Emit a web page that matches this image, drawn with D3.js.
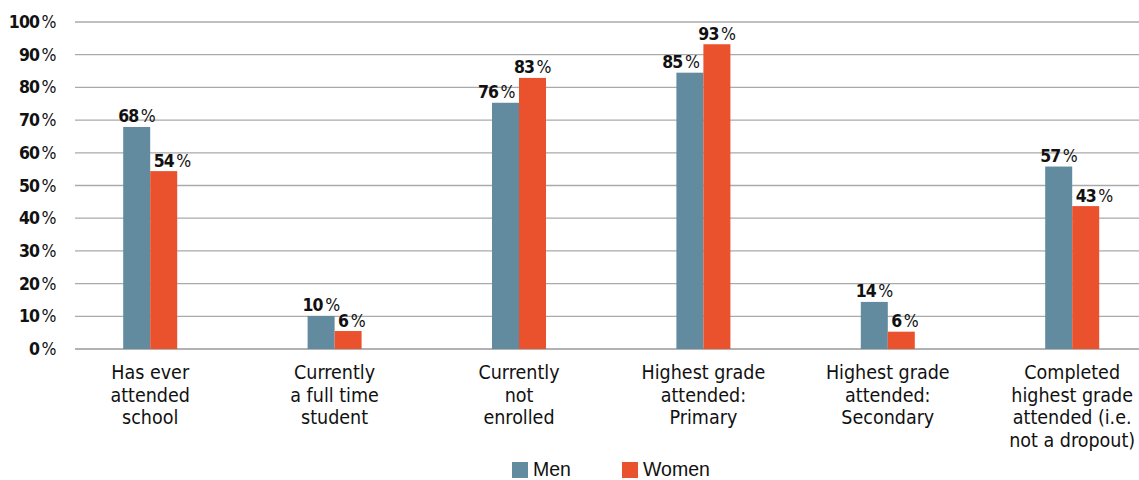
<!DOCTYPE html>
<html><head><meta charset="utf-8">
<script src="https://cdn.jsdelivr.net/npm/d3@7"></script>
<style>body{margin:0;background:#fff}svg{display:block}</style>
</head><body><svg id="c" width="1139" height="480"></svg>
<script>
const categories = [["Has ever","attended","school"],["Currently","a full time","student"],["Currently","not","enrolled"],["Highest grade","attended:","Primary"],["Highest grade","attended:","Secondary"],["Completed","highest grade","attended (i.e.","not a dropout)"]];
const men = [67.9, 10.1, 75.3, 84.5, 14.4, 55.8];
const women = [54.4, 5.5, 82.9, 93.2, 5.3, 43.7];
const menLabels = ["68","10","76","85","14","57"];
const womenLabels = ["54","6","83","93","6","43"];
const yTicks = [0,10,20,30,40,50,60,70,80,90,100];
const seriesNames = ["Men","Women"];
const colors = ["#628b9f","#ea522e"];

const svg = d3.select("#c");
const x = d3.scaleBand().domain(d3.range(categories.length)).range([58, 1164.4]);
const y = d3.scaleLinear().domain([0,100]).range([349, 22]);
const bw = 27;
const cond = "'DejaVu Sans Condensed',sans-serif";
const gap = 3.5;

function pctLabel(sel, numFn){
  sel.attr("font-family",cond).attr("font-size",17.5).attr("fill","#111");
  sel.append("tspan").attr("font-weight","bold").attr("letter-spacing",-0.9).text(numFn);
  sel.append("tspan").attr("dx",2.5).attr("font-weight","normal").attr("letter-spacing",-0.5).text("%");
}

// gridlines
svg.append("g").selectAll("line").data(yTicks).join("line")
  .attr("x1",75).attr("x2",1139).attr("y1",d=>y(d)).attr("y2",d=>y(d))
  .attr("stroke",d=>d===0?"#999":"#aaa").attr("stroke-width",1.3);
// y labels
svg.append("g").selectAll("text").data(yTicks).join("text")
  .attr("x",56).attr("y",d=>y(d)+6).attr("text-anchor","end")
  .call(pctLabel, d=>String(d));

const series = [men, women];
const labels = [menLabels, womenLabels];
const barX = (si,i) => x(i)+x.bandwidth()/2 - bw + si*bw;
series.forEach((vals, si) => {
  const g = svg.append("g");
  g.selectAll("rect").data(vals).join("rect")
    .attr("x",(d,i)=>barX(si,i))
    .attr("width",bw)
    .attr("y",d=>y(d)).attr("height",d=>y(0)-y(d))
    .attr("fill",colors[si]);
  const t = g.selectAll("text").data(vals).join("text")
    .attr("x",(d,i)=>barX(si,i)+bw/2)
    .attr("y",d=>y(d)-4.5).attr("text-anchor","middle")
    .call(pctLabel, (d,i)=>labels[si][i]);
  // keep labels clear of the neighbouring taller bar
  t.each(function(d,i){
    const other = series[1-si][i];
    const labelBottom = y(d)-4.5;
    if (other > d && labelBottom > y(other)) {
      const bb = this.getBBox();
      const cx = barX(si,i)+bw/2;
      if (si===0) {
        const limit = barX(1,i) - gap;
        if (bb.x+bb.width > limit) d3.select(this).attr("x", cx - (bb.x+bb.width-limit));
      } else {
        const limit = barX(0,i) + bw + gap;
        if (bb.x < limit) d3.select(this).attr("x", cx + (limit-bb.x));
      }
    }
  });
});

// x labels
const xl = svg.append("g").selectAll("text").data(categories).join("text")
  .attr("x",(d,i)=>x(i)+x.bandwidth()/2).attr("y",379).attr("text-anchor","middle")
  .attr("font-family",cond).attr("font-size",19.5).attr("fill","#111");
xl.each(function(lines){
  d3.select(this).selectAll("tspan").data(lines).join("tspan")
    .attr("x",d3.select(this).attr("x")).attr("dy",(d,j)=>j?22.6:0).text(d=>d);
});

// legend
const leg = svg.append("g");
const lx = [512, 622];
seriesNames.forEach((n,i)=>{
  leg.append("rect").attr("x",lx[i]).attr("y",462).attr("width",16).attr("height",16).attr("fill",colors[i]);
  leg.append("text").attr("x",lx[i]+21).attr("y",476).attr("font-family","'Liberation Sans',Arial,sans-serif")
    .attr("font-size",19.5).attr("fill","#111").text(n);
});
</script></body></html>
